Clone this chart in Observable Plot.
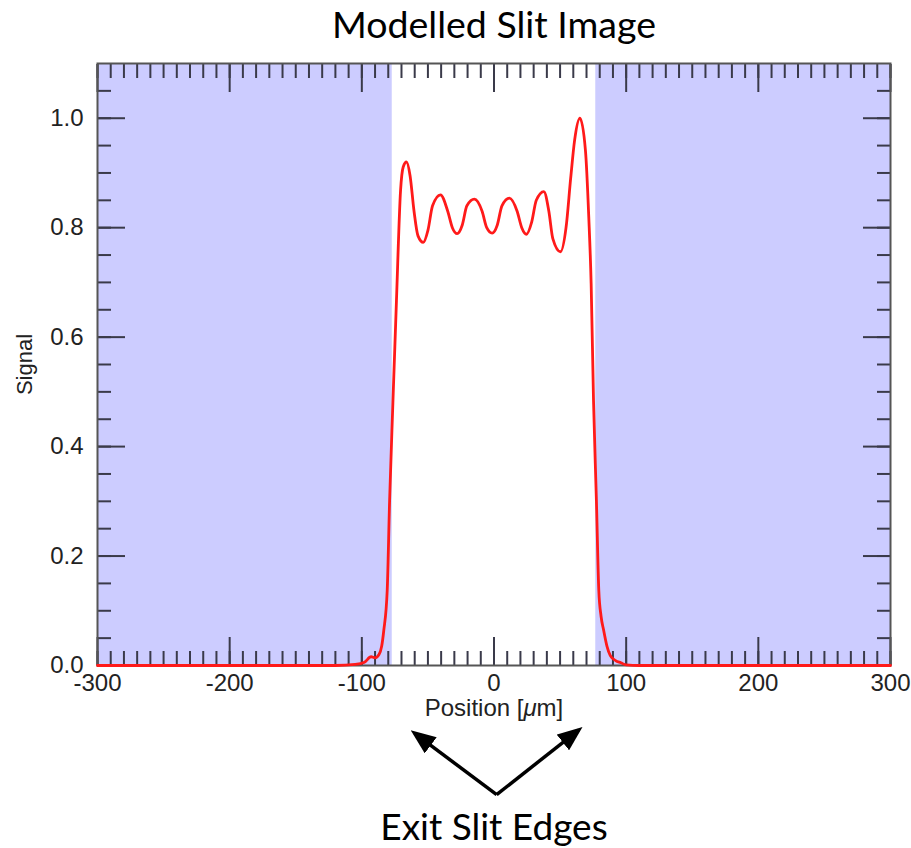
<!DOCTYPE html>
<html><head><meta charset="utf-8">
<script src="https://cdn.jsdelivr.net/npm/d3@7"></script>
<script src="https://cdn.jsdelivr.net/npm/@observablehq/plot@0.6"></script>
<style>body{margin:0;background:#fff}</style>
</head><body><div id="chart"></div>
<script>
// ---- data ----
const positions = [-300, -120, -105, -98, -93, -90, -87, -85, -83.4, -80.8, -79, -76.5, -73.8, -70.7, -68.7, -66.2,
  -63.5, -60.5, -57.5, -53.5, -50, -46.5, -40.5, -35, -31.5, -27.9, -24, -20.5, -14.8, -9, -5.5, -1.4,
  2.5, 6, 11.7, 17.5, 21, 24.6, 28.5, 32, 37.7, 41.5, 44.5, 50.3, 54.5, 58, 61, 65,
  69.2, 71.7, 73.5, 75.3, 77.5, 79.3, 81, 83, 85.5, 88, 92, 96, 100, 110, 300];
const signal = [0, 0, 0.002, 0.006, 0.016, 0.014, 0.02, 0.035, 0.064, 0.137, 0.30, 0.48, 0.667, 0.868, 0.911, 0.920,
  0.895, 0.83, 0.785, 0.773, 0.795, 0.84, 0.860, 0.83, 0.80, 0.789, 0.805, 0.84, 0.852, 0.83, 0.80, 0.790,
  0.805, 0.84, 0.854, 0.83, 0.80, 0.788, 0.81, 0.85, 0.866, 0.83, 0.78, 0.756, 0.80, 0.89, 0.96, 1.0,
  0.941, 0.82, 0.698, 0.484, 0.30, 0.137, 0.09, 0.064, 0.035, 0.018, 0.009, 0.005, 0.001, 0, 0];
const slitEdges = [-77, 77];
const xDomain = [-300, 300];
const yDomain = [0, 1.1];
const xMajorTicks = [-300, -200, -100, 0, 100, 200, 300];
const xMinorTicks = d3.range(-300, 301, 10);
const yMajorTicks = [0, 0.2, 0.4, 0.6, 0.8, 1.0];
const yMinorTicks = [0, 0.05, 0.1, 0.15, 0.2, 0.25, 0.3, 0.35, 0.4, 0.45, 0.5, 0.55, 0.6, 0.65, 0.7, 0.75, 0.8, 0.85, 0.9, 0.95, 1.0, 1.05];
const titleText = "Modelled Slit Image";
const xLabel = "Position [μm]";
const yLabel = "Signal";
const annotationText = "Exit Slit Edges";
const arrowOrigin = {x: 2, y: -0.236};
const arrowTips = [{x: -60, y: -0.124}, {x: 64, y: -0.118}];

// ---- derived tables ----
const curve = positions.map((x, i) => ({x, y: signal[i]}));
const shaded = [{x1: xDomain[0], x2: slitEdges[0]}, {x1: slitEdges[1], x2: xDomain[1]}];

function filledArrow(color) {
  const m = d3.create("svg:marker")
    .attr("viewBox", "-25 -10 25 20")
    .attr("markerWidth", 25).attr("markerHeight", 20)
    .attr("markerUnits", "userSpaceOnUse")
    .attr("refX", -5).attr("refY", 0)
    .attr("orient", "auto")
    .attr("fill", color).attr("stroke", "none");
  m.append("path").attr("d", "M-25,-10L0,0L-25,10Z");
  return m.node();
}

function build(marker) {
  const axisFont = "Liberation Sans, Arial, Helvetica, sans-serif";
  const tickStyle = {stroke: "#3a3a4a", strokeWidth: 2, tickFormat: () => "", label: null};
  return Plot.plot({
    width: 911, height: 848,
    marginLeft: 97, marginRight: 21, marginTop: 63, marginBottom: 183,
    style: {fontFamily: axisFont, background: "white"},
    x: {domain: xDomain},
    y: {domain: yDomain},
    marks: [
      Plot.rect(shaded, {x1: "x1", x2: "x2", fill: "#ccccff"}),
      Plot.axisX(xMinorTicks, {anchor: "bottom", tickSize: -14, ...tickStyle}),
      Plot.axisX(xMinorTicks, {anchor: "top", tickSize: -14, ...tickStyle}),
      Plot.axisX(xMajorTicks, {anchor: "bottom", tickSize: -28, ...tickStyle}),
      Plot.axisX(xMajorTicks, {anchor: "top", tickSize: -28, ...tickStyle}),
      Plot.axisY(yMinorTicks, {anchor: "left", tickSize: -14, ...tickStyle}),
      Plot.axisY(yMinorTicks, {anchor: "right", tickSize: -14, ...tickStyle}),
      Plot.axisY(yMajorTicks, {anchor: "left", tickSize: -28, ...tickStyle}),
      Plot.axisY(yMajorTicks, {anchor: "right", tickSize: -28, ...tickStyle}),
      Plot.axisX(xMajorTicks, {anchor: "bottom", tickSize: 0, tickPadding: 8, fontSize: 24, fill: "#222",
        tickFormat: d => String(d), label: null}),
      Plot.axisY(yMajorTicks, {anchor: "left", tickSize: 0, tickPadding: 14, fontSize: 24, fill: "#222",
        tickFormat: d => d.toFixed(1), label: null}),
      Plot.frame({stroke: "#555", strokeWidth: 2}),
      Plot.line(curve, {x: "x", y: "y", stroke: "#ff1a1a", strokeWidth: 2.8, curve: "monotone-x"}),
      Plot.text([yLabel], {text: d => d, frameAnchor: "left", textAnchor: "middle", lineAnchor: "middle",
        dx: -73, rotate: -90, fontSize: 22, fill: "#222"}),
      Plot.text([xLabel], {text: d => d, frameAnchor: "bottom", dy: 50, lineAnchor: "bottom", fontSize: 24, fill: "#222"}),
      Plot.text([titleText], {text: d => d, frameAnchor: "top", dy: -26, lineAnchor: "bottom", fontSize: 37.5,
        fontFamily: "Lato, 'Open Sans', sans-serif", fill: "#000"}),
      Plot.text([annotationText], {text: d => d, frameAnchor: "bottom", dy: 174, lineAnchor: "bottom", fontSize: 37,
        fontFamily: "Lato, 'Open Sans', sans-serif", fill: "#000"}),
      Plot.link(arrowTips, {x1: () => arrowOrigin.x, y1: () => arrowOrigin.y, x2: "x", y2: "y",
        stroke: "#000", strokeWidth: 3.5, markerEnd: marker})
    ]
  });
}

let chart;
try { chart = build(filledArrow); } catch (e) { chart = build("arrow"); }
d3.select(chart).selectAll("text").each(function () {
  if (this.textContent === xLabel) {
    const t = d3.select(this);
    t.text(null);
    t.append("tspan").text("Position [");
    t.append("tspan").attr("font-style", "italic").text("μ");
    t.append("tspan").text("m]");
  }
});
document.getElementById("chart").append(chart);
</script>
</body></html>
